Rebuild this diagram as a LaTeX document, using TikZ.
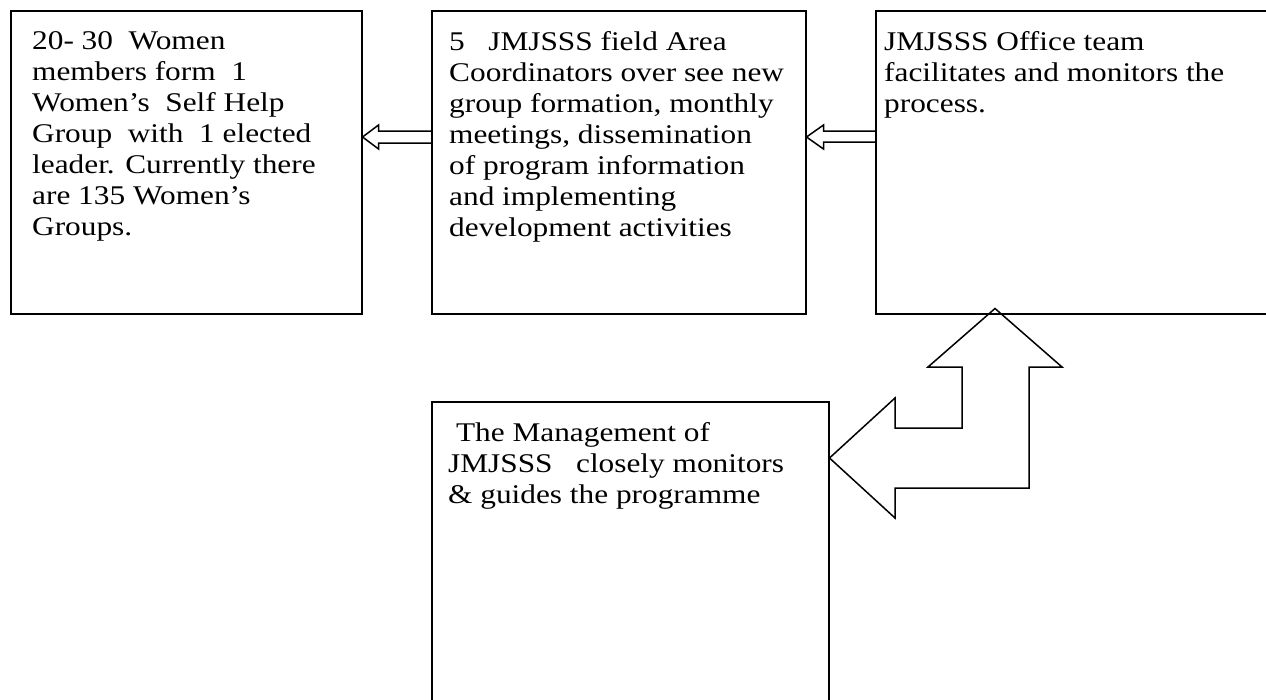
\documentclass[tikz,border=0pt]{standalone}
\usepackage{fontspec}
\setmainfont[FakeStretch=1.16]{Liberation Serif}
\usetikzlibrary{calc}
\tikzset{
  box/.style={draw, line width=1.5pt, inner sep=0pt, anchor=north west},
  boxtext/.style={align=left, anchor=north west, inner sep=0pt,
    font=\fontsize{27}{31}\selectfont},
  hollow/.style={draw, line width=1.5pt, line join=miter}
}
\begin{document}
\begin{tikzpicture}[x=1pt, y=-1pt]
        \clip (0,0) rectangle (1266,699);

        \node [box, minimum width=351pt, minimum height=303pt] (women) at (10,10) {};
        \node [box, minimum width=374pt, minimum height=303pt] (area) at (431,10) {};
        \node [box, minimum width=420pt, minimum height=303pt] (office) at (875,10) {};
        \node [box, minimum width=397pt, minimum height=320pt] (manage) at (431,401) {};

        \node [boxtext] (womentext) at ($(women.north west)+(22,21)$)
          {20- 30~~Women\\members form~~1\\Women’s~~Self Help\\Group~~with~~1 elected\\leader. Currently there\\are 135 Women’s\\Groups.};
        \node [boxtext] (areatext) at ($(area.north west)+(18,21)$)
          {5~~~JMJSSS field Area\\Coordinators over see new\\group formation, monthly\\meetings, dissemination\\of program information\\and implementing\\development activities};
        \node [boxtext] (officetext) at ($(office.north west)+(9,21)$)
          {JMJSSS Office team\\facilitates and monitors the\\process.};
        \node [boxtext] (managetext) at ($(manage.north west)+(17,21)$)
          {~The Management of\\JMJSSS~~~closely monitors\\\&~guides the programme};

        \coordinate (tipA) at ($(women.north east)+(0,127)$);
        \coordinate (tipB) at ($(area.north east)+(0,127)$);
        \coordinate (tipC) at ($(office.south west)+(120,-6)$);

        \draw [hollow] ($(tipA)+(69,-6)$) -- ($(tipA)+(16,-6)$) -- ($(tipA)+(16,-12)$)
          -- (tipA) -- ($(tipA)+(16,12)$) -- ($(tipA)+(16,6)$) -- ($(tipA)+(69,6)$);
        \draw [hollow] ($(tipB)+(70,-6)$) -- ($(tipB)+(17,-6)$) -- ($(tipB)+(17,-12)$)
          -- (tipB) -- ($(tipB)+(17,12)$) -- ($(tipB)+(17,5)$) -- ($(tipB)+(70,5)$);

        \draw [hollow] (tipC) -- (1062,367) -- (1029,367) -- (1029,488) -- (895,488)
          -- (895,518) -- (manage.east |- 0,458) -- (895,398) -- (895,428) -- (962,428)
          -- (962,367) -- (928,367) -- cycle;

      \end{tikzpicture}
\end{document}
